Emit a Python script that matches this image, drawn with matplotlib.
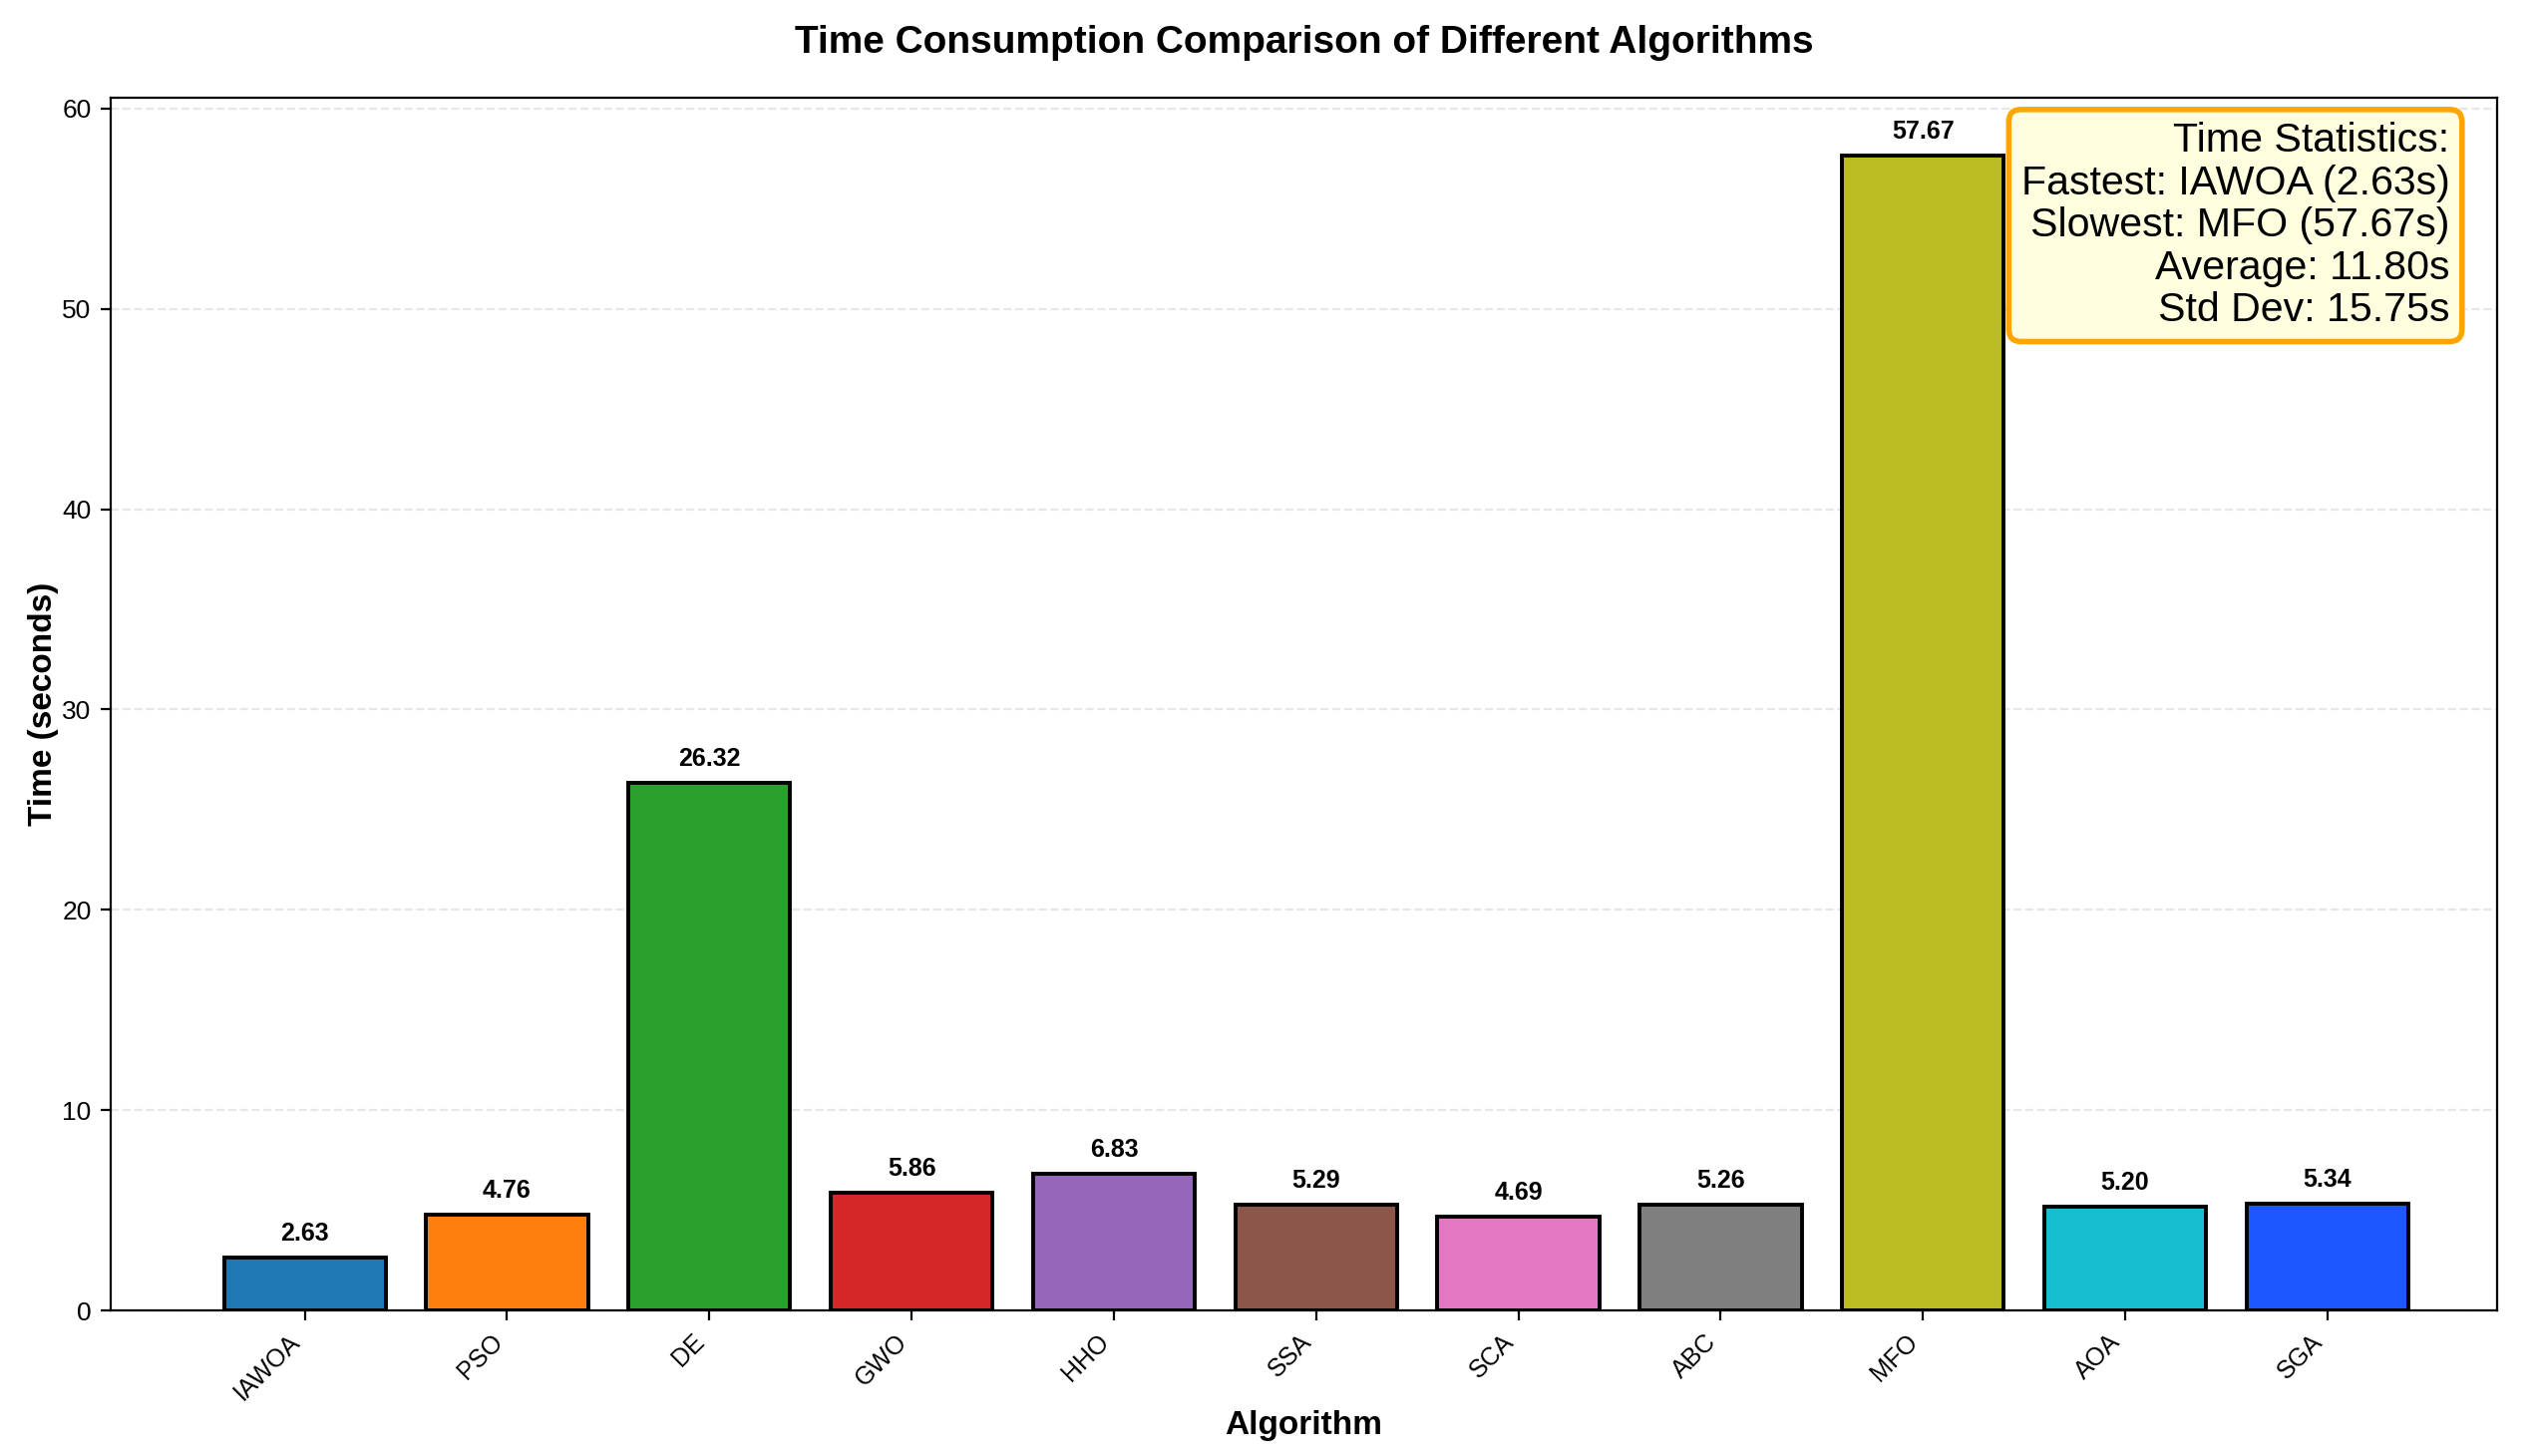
import matplotlib
matplotlib.use('Agg')
import matplotlib.pyplot as plt
import numpy as np

plt.rcParams['font.family'] = ['Liberation Sans', 'DejaVu Sans']

algorithms = ['IAWOA', 'PSO', 'DE', 'GWO', 'HHO', 'SSA', 'SCA', 'ABC', 'MFO', 'AOA', 'SGA']
times = [2.63, 4.76, 26.32, 5.86, 6.83, 5.29, 4.69, 5.26, 57.67, 5.20, 5.34]
colors = ['#1f77b4', '#ff7f0e', '#2ca02c', '#d62728', '#9467bd', '#8c564b',
          '#e377c2', '#7f7f7f', '#bcbd22', '#17becf', '#1f57ff']

fig, ax = plt.subplots(figsize=(12.725, 7.3), dpi=200)
fig.subplots_adjust(left=0.0436, right=0.984, top=0.933, bottom=0.1)

x = np.arange(len(algorithms))
bars = ax.bar(x, times, color=colors, edgecolor='black', linewidth=1.4, width=0.8)

# value labels on top of bars
for bar, t in zip(bars, times):
    ax.text(bar.get_x() + bar.get_width() / 2, bar.get_height() + 0.6, f'{t:.2f}',
            ha='center', va='bottom', fontsize=9, fontweight='bold')

ax.set_xticks(x)
ax.set_xticklabels(algorithms, rotation=45, ha='right', fontsize=9)
ax.tick_params(axis='y', labelsize=9.5)
ax.set_xlim(-0.96, 10.84)
ax.set_title('Time Consumption Comparison of Different Algorithms',
             fontsize=14, fontweight='bold', pad=16)
ax.set_xlabel('Algorithm', fontsize=12, fontweight='bold', labelpad=2)
ax.set_ylabel('Time (seconds)', fontsize=12, fontweight='bold', labelpad=1)
ax.grid(True, axis='y', linestyle='--', alpha=0.3)
ax.set_axisbelow(True)

fastest = algorithms[int(np.argmin(times))]
slowest = algorithms[int(np.argmax(times))]
stats = (f'Time Statistics:\n'
         f'Fastest: {fastest} ({min(times):.2f}s)\n'
         f'Slowest: {slowest} ({max(times):.2f}s)\n'
         f'Average: {np.mean(times):.2f}s\n'
         f'Std Dev: {np.std(times):.2f}s')
ax.text(0.98, 0.98, stats, transform=ax.transAxes, fontsize=14.8,
        ha='right', va='top', linespacing=1.15,
        bbox=dict(boxstyle='round,pad=0.3', facecolor='lightyellow',
                  edgecolor='orange', linewidth=2))

plt.savefig('out.png', dpi=200)
plt.close()
